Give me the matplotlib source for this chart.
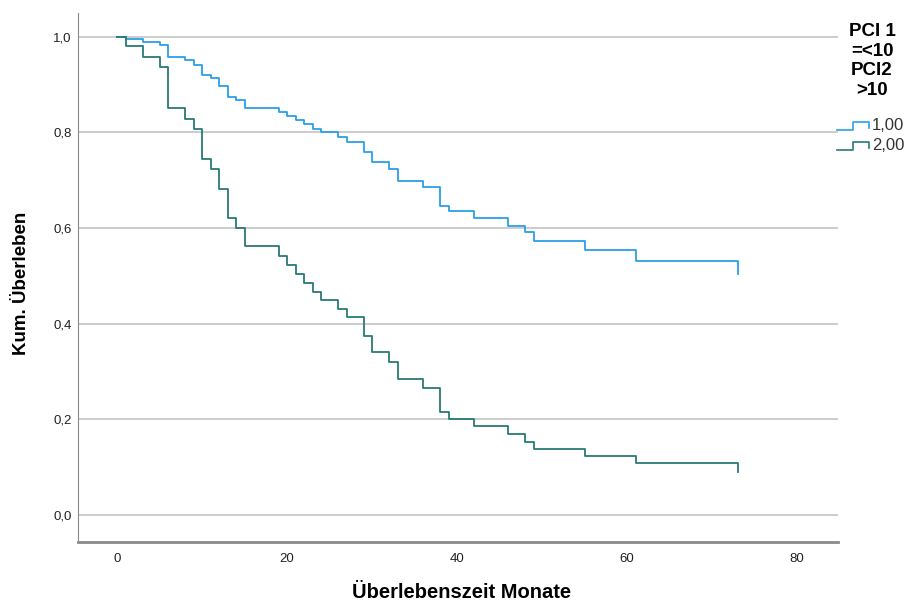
import numpy as np
import matplotlib.pyplot as plt
from matplotlib.lines import Line2D

plt.rcParams['font.family'] = ['Liberation Sans', 'DejaVu Sans']

# Kaplan-Meier step data (months, cumulative survival)
t_pci1 = [0, 1, 3, 5, 6, 8, 9, 10, 11, 12, 13, 14, 15, 19, 20, 21, 22, 23, 24,
          26, 27, 29, 30, 32, 33, 36, 38, 39, 42, 46, 48, 49, 55, 61, 73]
s_pci1 = [1.0, 0.995, 0.990, 0.983, 0.957, 0.952, 0.941, 0.921, 0.915, 0.897,
          0.875, 0.868, 0.851, 0.842, 0.835, 0.826, 0.817, 0.807, 0.800, 0.790,
          0.780, 0.759, 0.738, 0.724, 0.699, 0.687, 0.646, 0.636, 0.621, 0.605,
          0.591, 0.573, 0.554, 0.532, 0.504]

t_pci2 = [0, 1, 3, 5, 6, 8, 9, 10, 11, 12, 13, 14, 15, 19, 20, 21, 22, 23, 24,
          26, 27, 29, 30, 32, 33, 36, 38, 39, 42, 46, 48, 49, 55, 61, 73]
s_pci2 = [1.0, 0.980, 0.958, 0.937, 0.851, 0.828, 0.807, 0.745, 0.723, 0.681,
          0.621, 0.601, 0.563, 0.542, 0.523, 0.504, 0.486, 0.467, 0.450, 0.431,
          0.414, 0.375, 0.340, 0.320, 0.284, 0.265, 0.215, 0.201, 0.186, 0.169,
          0.153, 0.139, 0.123, 0.108, 0.089]

labels = ['1,00', '2,00']
colors = ['#2b9fe6', '#2a7a74']

fig = plt.figure(figsize=(9.09, 6.06), dpi=100)
ax = fig.add_axes([0.0858, 0.1056, 0.836, 0.873])

ax.step(t_pci1, s_pci1, where='post', color=colors[0], lw=1.3)
ax.step(t_pci2, s_pci2, where='post', color=colors[1], lw=1.3)

ax.set_xlim(-4.6, 84.8)
ax.set_ylim(-0.0565, 1.05)
ax.set_xticks([0, 20, 40, 60, 80])
ax.set_yticks([0, 0.2, 0.4, 0.6, 0.8, 1.0])
ax.set_yticklabels(['0,0', '0,2', '0,4', '0,6', '0,8', '1,0'])
ax.tick_params(length=0, labelsize=9.5, colors='#222222')
ax.tick_params(axis='y', pad=4.5)
ax.tick_params(axis='x', pad=8)
ax.grid(axis='y', color='#c8c8c8', lw=1.3)
ax.set_axisbelow(True)

for side in ['top', 'right']:
    ax.spines[side].set_visible(False)
ax.spines['left'].set_color('#8a8a8a')
ax.spines['bottom'].set_color('#8a8a8a')
ax.spines['bottom'].set_linewidth(2)

ax.set_xlabel('Überlebenszeit Monate', fontsize=14.5, fontweight='bold', va='center')
ax.xaxis.set_label_coords(0.505, -0.0945)
ax.set_ylabel('Kum. Überleben', fontsize=13.5, fontweight='bold', va='center')
ax.yaxis.set_label_coords(-0.0737, 0.488)

# legend drawn by hand, SPSS style
fig.text(872 / 909, 1 - 61 / 606, 'PCI 1\n=<10\nPCI2\n>10', ha='center', va='center',
         fontsize=13.5, fontweight='bold', linespacing=1.2)
for i, (lab, c) in enumerate(zip(labels, colors)):
    yc = 1 - (126 + 20 * i) / 606
    dy = 4 / 606
    xs = np.array([837, 853, 853, 869, 869]) / 909
    ys = [yc - dy, yc - dy, yc + dy, yc + dy, yc - dy / 2]
    fig.add_artist(Line2D(xs, ys, color=c, lw=1.2))
    fig.text(872 / 909, yc, lab, ha='left', va='center', fontsize=12, color='#333333')

fig.savefig('out.png', dpi=100)
